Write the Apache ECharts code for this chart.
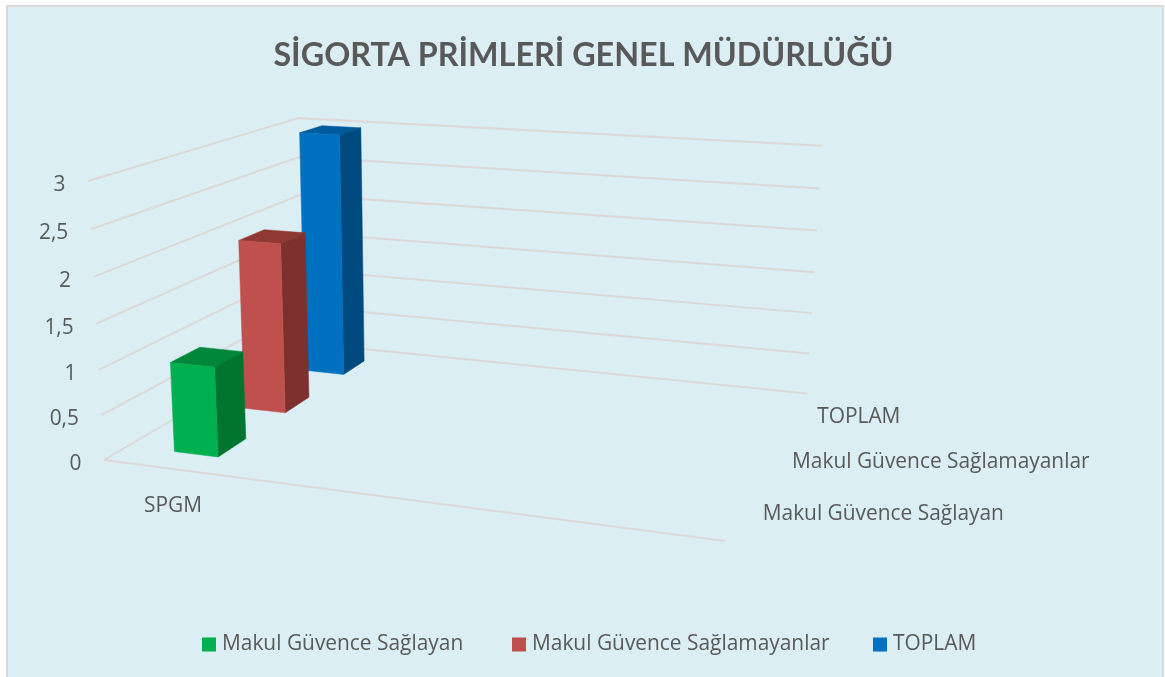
<!DOCTYPE html>
<html><head><meta charset="utf-8">
<style>html,body{margin:0;padding:0;background:#fff}#main{width:1165px;height:677px}</style>
<script src="https://cdn.jsdelivr.net/npm/echarts@6/dist/echarts.min.js"></script>
</head><body><div id="main"></div>
<script>
const categories = ['SPGM'];
const seriesNames = ['Makul Güvence Sağlayan', 'Makul Güvence Sağlamayanlar', 'TOPLAM'];
const saglayanValues = [1];
const saglamayanValues = [2];
const toplamValues = [3];
const yTicks = [0, 0.5, 1, 1.5, 2, 2.5, 3];

const AXIS_MAX = 3;
const TEXT = '#595959', FONT = '"Open Sans", sans-serif', TITLE_FONT = 'Lato, sans-serif';
const LABEL_SIZE = 20.9;
const GRIDLINE = '#DDD8D6';
const FLOOR = [[104,460],[725,541],[807.5,393.5],[304,343]];
const VANISH = [451,6512];
const TOP_FRONT_Y = 181;
const DEPTHS = [[0.1,0.23],[0.43,0.56],[0.765,0.895]];
const BAND = [0.085,0.164];
const COLORS = [
  {front:'#00B050', side:'#00752F', top:'#00873A'},
  {front:'#C0504D', side:'#7D302E', top:'#903834'},
  {front:'#0070C0', side:'#004A7F', top:'#005A9C'}
];

function homography(q){
  const [p0,p1,p2,p3]=q;
  const dx1=p1[0]-p2[0],dx2=p3[0]-p2[0],sx=p0[0]-p1[0]+p2[0]-p3[0];
  const dy1=p1[1]-p2[1],dy2=p3[1]-p2[1],sy=p0[1]-p1[1]+p2[1]-p3[1];
  const den=dx1*dy2-dx2*dy1;
  const g=(sx*dy2-dx2*sy)/den,h=(dx1*sy-sx*dy1)/den;
  const a=p1[0]-p0[0]+g*p1[0],b=p3[0]-p0[0]+h*p3[0];
  const d=p1[1]-p0[1]+g*p1[1],e=p3[1]-p0[1]+h*p3[1];
  return (u,w)=>[a*u+b*w+p0[0],d*u+e*w+p0[1],1+g*u+h*w];
}
const floorMap=homography(FLOOR);
const RISE=(TOP_FRONT_Y-FLOOR[0][1])/(VANISH[1]-TOP_FRONT_Y);

function projector(api){
  const y0=api.coord([0,0])[1], yM=api.coord([0,AXIS_MAX])[1];
  return (u,w,v)=>{
    const t=(y0-api.coord([0,v])[1])/(y0-yM);
    const f=floorMap(u,w), r=RISE*t;
    const k=f[2]+r;
    return [(f[0]+r*VANISH[0])/k,(f[1]+r*VANISH[1])/k];
  };
}
function face(points,fill){
  return {type:'polygon',shape:{points},style:{fill,stroke:fill,lineWidth:0.5}};
}
function barSeries(idx,values,z){
  return {
    name:seriesNames[idx],type:'custom',coordinateSystem:'cartesian2d',z,clip:false,
    itemStyle:{color:COLORS[idx].front},
    encode:{x:0,y:1},
    data:values.map((v,i)=>[categories[i],v]),
    renderItem(params,api){
      const P=projector(api), v=api.value(1);
      const [u0,u1]=BAND,[w0,w1]=DEPTHS[idx],c=COLORS[idx];
      return {type:'group',children:[
        face([P(u0,w0,v),P(u1,w0,v),P(u1,w1,v),P(u0,w1,v)],c.top),
        face([P(u1,w0,0),P(u1,w1,0),P(u1,w1,v),P(u1,w0,v)],c.side),
        face([P(u0,w0,0),P(u1,w0,0),P(u1,w0,v),P(u0,w0,v)],c.front)
      ]};
    }
  };
}
function txt(text,x,y,size,align){
  return {type:'text',style:{text,x,y,fill:TEXT,font:size+'px '+FONT,textAlign:align,textVerticalAlign:'middle'}};
}

const chart=echarts.init(document.getElementById('main'),null,{renderer:'canvas'});
chart.setOption({
  backgroundColor:'#ffffff',
  animation:false,
  title:{text:'SİGORTA PRİMLERİ GENEL MÜDÜRLÜĞÜ',left:578.5,top:35,textAlign:'center',
    textStyle:{color:TEXT,fontFamily:TITLE_FONT,fontWeight:'bold',fontSize:32.3}},
  graphic:[{type:'rect',z:-10,shape:{x:7,y:6,width:1156,height:680},
    style:{fill:'#DAEEF4',stroke:'#D9D9D9',lineWidth:2}}],
  legend:seriesNames.map((n,i)=>({
    data:[n],left:[202,512,873][i],top:634,padding:0,icon:'rect',itemWidth:14,itemHeight:14,
    textStyle:{color:TEXT,fontFamily:FONT,fontSize:LABEL_SIZE,padding:[0,0,0,1]}
  })),
  grid:{left:75,right:300,top:181,bottom:217},
  xAxis:{type:'category',data:categories,show:false},
  yAxis:{type:'value',min:0,max:AXIS_MAX,interval:0.5,show:false},
  series:[
    {type:'custom',coordinateSystem:'cartesian2d',z:1,clip:false,silent:true,
     encode:{x:0,y:1},
     data:yTicks.map(t=>[categories[0],t]),
     renderItem(params,api){
       const P=projector(api),v=api.value(1);
       const stroke={stroke:GRIDLINE,lineWidth:2,fill:null};
       const children=[{type:'polyline',shape:{points:[P(0,0,v),P(0,1,v),P(1,1,v)]},style:stroke}];
       if(v===0) children.push({type:'polyline',shape:{points:[P(0,0,0),P(1,0,0)]},style:stroke});
       const a=P(0,0,v);
       children.push(txt(String(v).replace('.',','),a[0]-22.5,a[1]+4,LABEL_SIZE,'right'));
       return {type:'group',children};
     }},
    barSeries(2,toplamValues,3),
    barSeries(1,saglamayanValues,4),
    barSeries(0,saglayanValues,5),
    {type:'custom',coordinateSystem:'cartesian2d',z:6,clip:false,silent:true,
     encode:{x:0,y:1},
     data:[[categories[0],0]],
     renderItem(params,api){
       const P=projector(api);
       const kids=seriesNames.map((n,i)=>{
         const p=P(1,(DEPTHS[i][0]+DEPTHS[i][1])/2,0);
         return txt(n,p[0]+21,p[1]+3,LABEL_SIZE,'left');
       });
       categories.forEach(c=>{
         const p=P((BAND[0]+BAND[1])/2,0,0);
         kids.push(txt(c,p[0],p[1]+37.5,LABEL_SIZE,'center'));
       });
       return {type:'group',children:kids};
     }}
  ]
});
</script></body></html>
